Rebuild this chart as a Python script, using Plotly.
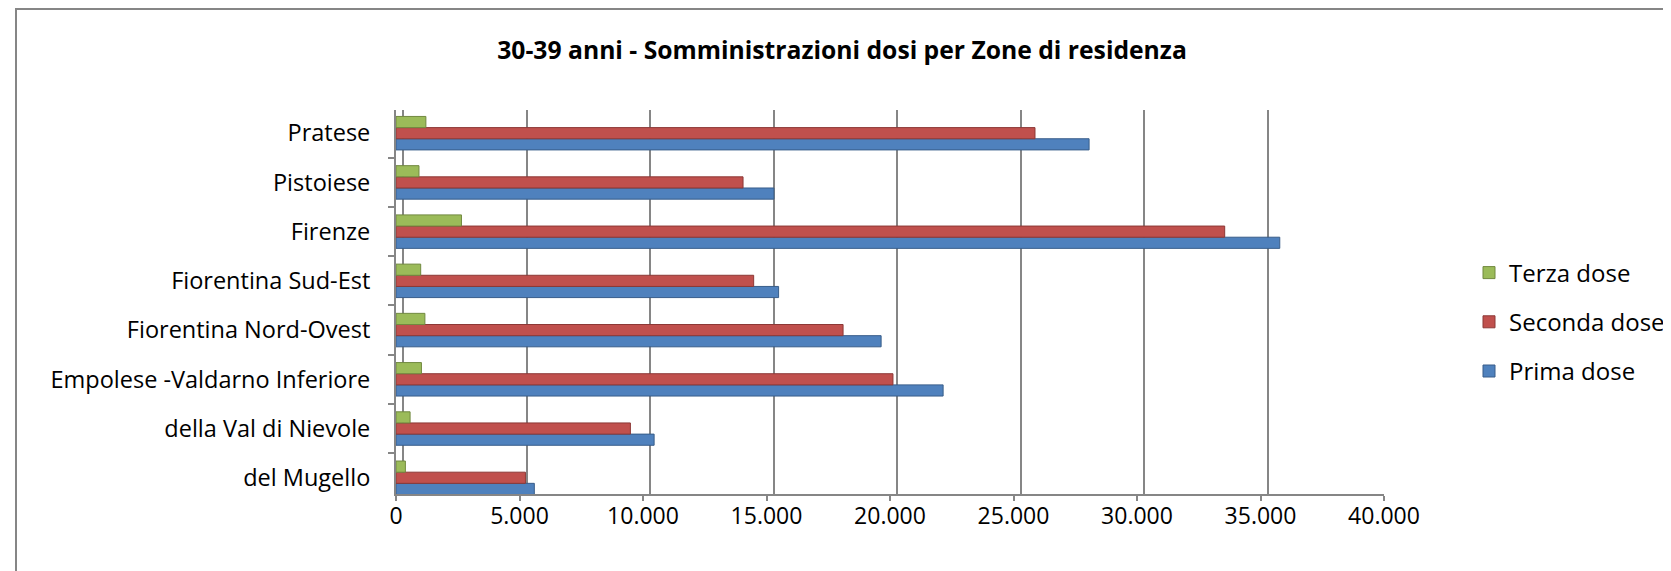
import plotly.graph_objects as go

categories = ["del Mugello", "della Val di Nievole", "Empolese -Valdarno Inferiore",
              "Fiorentina Nord-Ovest", "Fiorentina Sud-Est", "Firenze", "Pistoiese", "Pratese"]
prima_dose = [5600, 10450, 22150, 19640, 15490, 35780, 15300, 28060]
seconda_dose = [5240, 9490, 20120, 18100, 14480, 33550, 14050, 25870]
terza_dose = [380, 570, 1030, 1170, 1000, 2650, 930, 1210]
x_ticks = [0, 5000, 10000, 15000, 20000, 25000, 30000, 35000, 40000]

W, H = 1760, 571   # wider than the window so the legend never forces a margin push
OFF = 8  # page body margin offset
L, R, T, B = 396 - OFF, 1384 - OFF, 110 - OFF, 494 - OFF
pw, ph = R - L, B - T

FONT = "Open Sans"
GRID = "#868686"
DEPTH_PX = 7  # back-wall gridlines sit a few pixels right of the front axis
shift = DEPTH_PX * 40000 / pw

fig = go.Figure()
series = [
    ("Prima dose", prima_dose, "#4F81BD", "#385D8A", 3),
    ("Seconda dose", seconda_dose, "#C0504D", "#8C3836", 2),
    ("Terza dose", terza_dose, "#9BBB59", "#71893F", 1),
]
for name, vals, col, edge, rank in series:
    fig.add_trace(go.Bar(
        y=categories, x=vals, name=name, orientation="h",
        marker=dict(color=col, line=dict(color=edge, width=1)),
        legendgroup=name, legendrank=rank,
    ))
# empty trace to activate the back-wall grid axis
fig.add_trace(go.Scatter(x=[], y=[], xaxis="x2", yaxis="y", showlegend=False, hoverinfo="skip"))

fig.update_layout(
    width=W, height=H,
    margin=dict(l=L, r=W - R, t=T, b=H - B, pad=0, autoexpand=False),
    paper_bgcolor="white", plot_bgcolor="white",
    barmode="group", bargap=0.32, bargroupgap=0,
    separators=",.",
    font=dict(family=FONT, size=23, color="black"),
    title=dict(text="<b>30-39 anni - Somministrazioni dosi per Zone di residenza</b>",
               x=(842 - OFF) / W, xref="container", xanchor="center",
               y=1 - (50 - OFF) / H, yref="container", yanchor="middle",
               font=dict(family=FONT, size=24.7, color="black")),
    legend=dict(x=(1469 - 396) / pw, xanchor="left", y=(494 - 322) / ph, yanchor="middle",
                traceorder="grouped", tracegroupgap=15,
                font=dict(family=FONT, size=24, color="black"),
                bgcolor="rgba(0,0,0,0)"),
    xaxis=dict(range=[0, 40000], tickvals=x_ticks, tickformat=",d",
               showgrid=False, automargin=False,
               showline=True, linecolor=GRID, linewidth=2,
               ticks="outside", ticklen=5, tickcolor=GRID, tickwidth=2,
               ticklabelstandoff=-5,
               zeroline=False, fixedrange=True),
    xaxis2=dict(overlaying="x", anchor="y", range=[-shift, 40000 - shift],
                tickvals=x_ticks, showticklabels=False, ticks="",
                showgrid=True, gridcolor=GRID, gridwidth=2, automargin=False,
                showline=False, zeroline=False, fixedrange=True),
    yaxis=dict(categoryorder="array", categoryarray=categories,
               range=[-0.33, 7.471], tickfont=dict(size=23.5),
               showgrid=False, showline=True, linecolor=GRID, linewidth=2,
               ticks="outside", ticklen=6, tickcolor=GRID, tickwidth=2,
               tickson="boundaries", ticklabelstandoff=19, automargin=False,
               zeroline=False, fixedrange=True),
    shapes=[dict(type="rect", xref="paper", yref="paper",
                 x0=(16 - 396) / pw, x1=(1669 - 396) / pw,
                 y0=-0.3, y1=(494 - 9) / ph,
                 line=dict(color=GRID, width=2), fillcolor="rgba(0,0,0,0)", layer="below")],
)

fig.write_html("out.html")
